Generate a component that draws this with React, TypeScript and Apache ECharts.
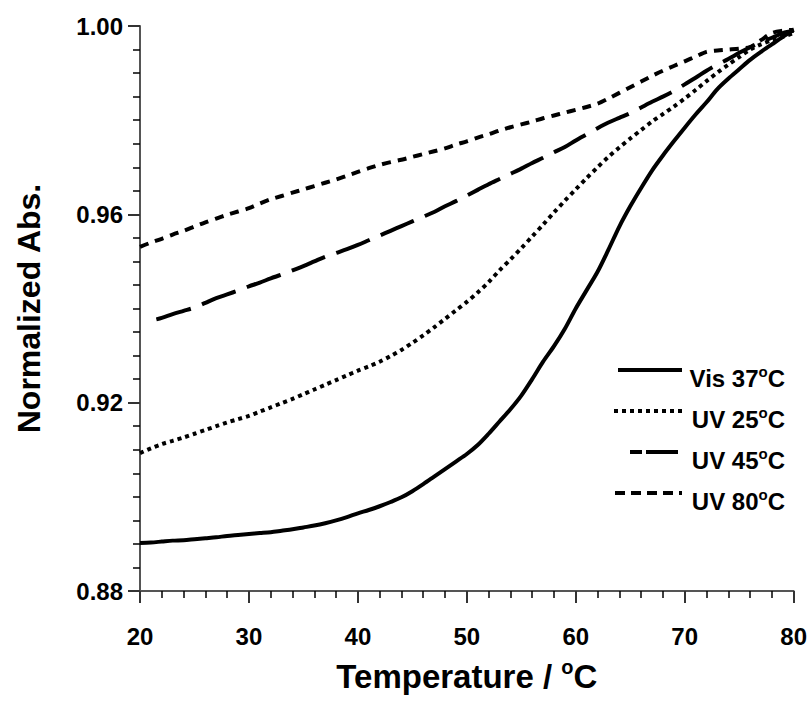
import React, { useEffect, useRef } from "react";
import * as echarts from "echarts";

// ---- Data ----
const tempsFull: number[] = [
  20, 21, 22, 23, 24, 25, 26, 27, 28, 29, 30, 31, 32, 33, 34, 35, 36, 37, 38, 39, 40,
  41, 42, 43, 44, 45, 46, 47, 48, 49, 50, 51, 52, 53, 54, 55, 56, 57, 58, 59, 60,
  61, 62, 63, 64, 65, 66, 67, 68, 69, 70, 71, 72, 73, 74, 75, 76, 77, 78, 79, 80,
];
const temps45: number[] = [
  21.5, 22, 23, 24, 25, 26, 27, 28, 29, 30, 31, 32, 33, 34, 35, 36, 37, 38, 39, 40,
  41, 42, 43, 44, 45, 46, 47, 48, 49, 50, 51, 52, 53, 54, 55, 56, 57, 58, 59, 60,
  61, 62, 63, 64, 65, 66, 67, 68, 69, 70, 71, 72, 73, 74, 75, 76, 77, 78, 79, 80,
];

const vis37: number[] = [
  0.8902, 0.8903, 0.8905, 0.8907, 0.8908, 0.891, 0.8912, 0.8914, 0.8917, 0.8919, 0.8921,
  0.8923, 0.8925, 0.8928, 0.8931, 0.8935, 0.8939, 0.8944, 0.895, 0.8957, 0.8965,
  0.8972, 0.898, 0.8989, 0.8999, 0.9012, 0.9027, 0.9043, 0.9059, 0.9075, 0.9091,
  0.911, 0.9134, 0.916, 0.9186, 0.9215, 0.925, 0.9287, 0.932, 0.9357, 0.94,
  0.9439, 0.9478, 0.9525, 0.9574, 0.9617, 0.9656, 0.9693, 0.9725, 0.9755, 0.9784,
  0.9812, 0.9838, 0.9866, 0.9888, 0.9908, 0.9928, 0.9945, 0.9961, 0.9977, 0.9992,
];

const uv25: number[] = [
  0.9093, 0.9103, 0.9112, 0.9119, 0.9126, 0.9134, 0.9142, 0.915, 0.9158, 0.9165, 0.9172,
  0.9181, 0.919, 0.9199, 0.9208, 0.9218, 0.9228, 0.9238, 0.9248, 0.9258, 0.9268,
  0.9277, 0.9287, 0.9299, 0.9312, 0.9327, 0.9343, 0.936, 0.9378, 0.9396, 0.9414,
  0.9434, 0.9456, 0.9481, 0.9504, 0.9528, 0.9553, 0.9578, 0.9604, 0.9629, 0.9653,
  0.9677, 0.97, 0.9722, 0.9742, 0.9761, 0.9779, 0.9797, 0.9813, 0.9829, 0.9846,
  0.9864, 0.9883, 0.9901, 0.9918, 0.9934, 0.995, 0.9961, 0.997, 0.9977, 0.9985,
];

const uv45: number[] = [
  0.9377, 0.938, 0.9388, 0.9395, 0.9402, 0.9412, 0.9422, 0.943, 0.9438, 0.9447,
  0.9455, 0.9464, 0.9472, 0.9481, 0.949, 0.95, 0.951, 0.9518, 0.9526, 0.9535,
  0.9545, 0.9555, 0.9565, 0.9575, 0.9585, 0.9595, 0.9605, 0.9617, 0.9628, 0.964,
  0.9652, 0.9664, 0.9675, 0.9686, 0.9697, 0.9709, 0.972, 0.9732, 0.9743, 0.9757,
  0.977, 0.9783, 0.9795, 0.9805, 0.9815, 0.9827, 0.9839, 0.985, 0.9862, 0.9876,
  0.989, 0.9905, 0.9918, 0.993, 0.9943, 0.9955, 0.9966, 0.9975, 0.9985, 0.999,
];

const uv80: number[] = [
  0.9531, 0.954, 0.9548, 0.9557, 0.9565, 0.9574, 0.9583, 0.9591, 0.9599, 0.9606, 0.9613,
  0.9623, 0.9632, 0.9639, 0.9646, 0.9653, 0.966, 0.9667, 0.9674, 0.9682, 0.969,
  0.9698, 0.9705, 0.9711, 0.9716, 0.9722, 0.9728, 0.9734, 0.974, 0.9748, 0.9755,
  0.9763, 0.977, 0.9778, 0.9785, 0.9791, 0.9797, 0.9804, 0.981, 0.9816, 0.9822,
  0.9828, 0.9835, 0.9846, 0.9858, 0.987, 0.9882, 0.9894, 0.9905, 0.9915, 0.9925,
  0.9935, 0.9945, 0.9948, 0.995, 0.9952, 0.9955, 0.997, 0.9985, 0.999, 0.9992,
];

const seriesNames: string[] = ["Vis 37°C", "UV 25°C", "UV 45°C", "UV 80°C"];
const legendPrefixes: string[] = ["Vis 37", "UV 25", "UV 45", "UV 80"];
const xTickLabels: string[] = ["20", "30", "40", "50", "60", "70", "80"];
const yTickLabels: string[] = ["0.88", "0.92", "0.96", "1.00"];

const FONT = "'Liberation Sans', Arial, Helvetica, sans-serif";

function pairs(xs: number[], ys: number[]): number[][] {
  return xs.map((x, i) => [x, ys[i]]);
}

export default function App() {
  const ref = useRef<HTMLDivElement>(null);

  useEffect(() => {
    document.body.style.margin = "0";
    if (!ref.current) return;
    const chart = echarts.init(ref.current, undefined, { renderer: "svg" });

    const supRich = {
      main: { fontFamily: FONT, fontWeight: "bold", fontSize: 24, color: "#000", lineHeight: 28 },
      sup: { fontFamily: FONT, fontWeight: "bold", fontSize: 15, color: "#000", lineHeight: 14, verticalAlign: "top" },
    };

    const legendStyles: { dash: any; x1: number }[] = [
      { dash: null, x1: 618 },
      { dash: [4, 4], x1: 614 },
      { dash: [12, 4, 32, 4], x1: 630 },
      { dash: [10, 6], x1: 615 },
    ];
    const legendY = [378, 419, 460, 501];

    const graphic: any[] = [];
    legendPrefixes.forEach((p, i) => {
      const st = legendStyles[i];
      graphic.push({
        type: "line",
        shape: { x1: st.x1, y1: legendY[i] - 8, x2: 682, y2: legendY[i] - 8 },
        style: { stroke: "#000", lineWidth: 4, lineDash: st.dash || undefined, lineCap: "butt" },
        silent: true,
      });
      graphic.push({
        type: "text",
        x: 785,
        y: legendY[i],
        style: {
          text: `{main|${p}}{sup|o}{main|C}`,
          rich: supRich,
          align: "right",
          verticalAlign: "middle",
        },
        silent: true,
      });
    });

    const mk = (name: string, data: number[][], type: any) => ({
      name,
      type: "line",
      data,
      showSymbol: false,
      symbol: "none",
      smooth: 0.3,
      lineStyle: { color: "#000", width: 4, type, cap: "butt", join: "round" },
      z: 3,
    });

    const majorTick = () => ({
      show: true,
      length: 12,
      lineStyle: { color: "#333333", width: 2, opacity: 1, type: "solid" },
    });
    const minorTick = (n: number) => ({
      show: true,
      splitNumber: n,
      length: 7,
      lineStyle: { color: "#000000", width: 1.5, opacity: 1, type: "solid" },
    });

    const option: any = {
      animation: false,
      grid: { left: 140, right: 16, top: 26, bottom: 113 },
      xAxis: {
        type: "value",
        min: 20,
        max: 80,
        interval: 10,
        name: "{t|Temperature / }{s|o}{t|C}",
        nameLocation: "middle",
        nameGap: 66,
        nameTextStyle: {
          rich: {
            t: { fontFamily: FONT, fontWeight: "bold", fontSize: 33, color: "#000", lineHeight: 38 },
            s: { fontFamily: FONT, fontWeight: "bold", fontSize: 20, color: "#000", lineHeight: 20, verticalAlign: "top" },
          },
        },
        axisLine: { show: true, lineStyle: { color: "#555", width: 2, opacity: 1 } },
        axisTick: majorTick(),
        minorTick: minorTick(5),
        splitLine: { show: false },
        axisLabel: {
          margin: 33,
          fontFamily: FONT,
          fontWeight: "bold",
          fontSize: 24,
          color: "#000",
          formatter: (v: number) => xTickLabels[Math.round((v - 20) / 10)] ?? String(v),
        },
      },
      yAxis: {
        type: "value",
        min: 0.88,
        max: 1.0,
        interval: 0.04,
        name: "Normalized Abs.",
        nameLocation: "middle",
        nameGap: 95,
        nameRotate: 90,
        nameTextStyle: { fontFamily: FONT, fontWeight: "bold", fontSize: 32, color: "#000" },
        axisLine: { show: true, lineStyle: { color: "#555", width: 2, opacity: 1 } },
        axisTick: majorTick(),
        minorTick: minorTick(8),
        splitLine: { show: false },
        axisLabel: {
          margin: 17,
          fontFamily: FONT,
          fontWeight: "bold",
          fontSize: 24,
          color: "#000",
          formatter: (v: number) => yTickLabels[Math.round((v - 0.88) / 0.04)] ?? v.toFixed(2),
        },
      },
      series: [
        mk(seriesNames[0], pairs(tempsFull, vis37), "solid"),
        mk(seriesNames[1], pairs(tempsFull, uv25), [4, 4]),
        mk(seriesNames[2], pairs(temps45, uv45), [36, 12]),
        mk(seriesNames[3], pairs(tempsFull, uv80), [9, 7]),
      ],
      graphic,
    };

    chart.setOption(option);
    return () => chart.dispose();
  }, []);

  return <div ref={ref} style={{ width: 810, height: 704 }} />;
}
